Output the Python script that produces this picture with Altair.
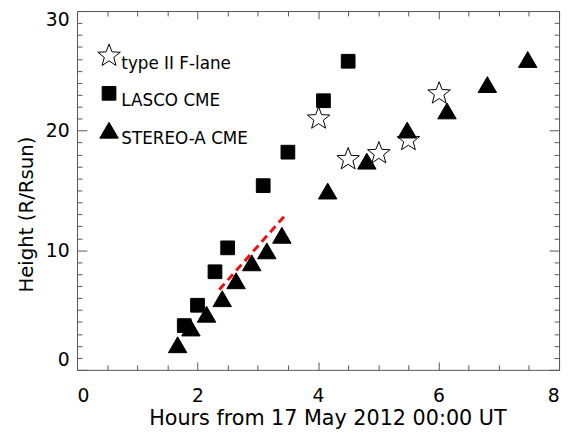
import math
import altair as alt
import pandas as pd

# ---- data ----
types = ["type II F-lane", "LASCO CME", "STEREO-A CME"]

star_x = [4.01, 4.50, 5.01, 5.50, 6.01]
star_y = [21.0, 17.6, 18.1, 19.2, 23.1]

lasco_x = [1.78, 2.00, 2.29, 2.50, 3.09, 3.50, 4.09, 4.50]
lasco_y = [3.7, 5.4, 8.2, 10.2, 15.4, 18.2, 22.5, 25.8]

stereo_x = [1.67, 1.89, 2.15, 2.41, 2.64, 2.90, 3.15, 3.40, 4.16, 4.81, 5.48, 6.14, 6.81, 7.48]
stereo_y = [2.05, 3.45, 4.6, 5.9, 7.4, 8.9, 9.9, 11.2, 14.9, 17.4, 20.0, 21.6, 23.8, 25.9]

fit_x = [2.36, 3.45]
fit_y = [6.7, 12.9]

x_major = [0, 2, 4, 6, 8]
x_minor = [v / 2 for v in range(1, 16) if v % 4 != 0]
y_major = [0, 10, 20, 30]
y_minor = [v for v in range(1, 30) if v % 10 != 0]

rows = []
for name, xs, ys in zip(types, [star_x, lasco_x, stereo_x], [star_y, lasco_y, stereo_y]):
    for xv, yv in zip(xs, ys):
        rows.append({"hours": xv, "height": yv, "type": name})
df = pd.DataFrame(rows)
fit = pd.DataFrame({"hours": fit_x, "height": fit_y})


def star_path(R=1.0, r=0.42):
    pts = []
    for k in range(10):
        ang = math.radians(-90 + 36 * k)
        rad = R if k % 2 == 0 else r
        pts.append(f"{rad * math.cos(ang):.3f},{rad * math.sin(ang):.3f}")
    return "M" + "L".join(pts) + "Z"


square_path = "M-0.58,-0.58L0.58,-0.58L0.58,0.58L-0.58,0.58Z"
tri_path = "M0,-0.72L0.78,0.62L-0.78,0.62Z"

FONT = "DejaVu Sans"
TICK = "#555555"


def xs():
    return alt.Scale(domain=[0, 8], nice=False, zero=False)


def ys():
    return alt.Scale(domain=[0, 30], nice=False, zero=False)


def tick_axis(orient, values, size):
    return alt.Axis(orient=orient, values=values, domain=False, labels=False,
                    grid=False, ticks=True, tickSize=size, offset=-size,
                    tickColor=TICK, tickWidth=1, title=None)


x_main = alt.Axis(orient="bottom", values=x_major, domain=False, ticks=False, grid=False,
                  labelFont=FONT, labelFontSize=19, labelColor="black", labelPadding=17,
                  labelAngle=0, format="d",
                  title="Hours from 17 May 2012 00:00 UT", titleFont=FONT, titleFontSize=21,
                  titleFontWeight="normal", titleColor="black", titleX=254, titleY=49,
                  titleBaseline="middle", titleAlign="center")
y_main = alt.Axis(orient="left", values=y_major, domain=False, ticks=False, grid=False,
                  labelFont=FONT, labelFontSize=19, labelColor="black", labelPadding=8,
                  labelFlush=True, format="d",
                  title="Height (R/Rsun)", titleFont=FONT, titleFontSize=20,
                  titleFontWeight="normal", titleColor="black", titleAngle=270,
                  titleX=-51, titleY=206, titleBaseline="middle", titleAlign="center")

leg = alt.Legend(title=None, orient="none", legendX=20, legendY=33, symbolSize=576,
                 symbolStrokeWidth=1, symbolStrokeColor="black", labelFont=FONT,
                 labelFontSize=17, labelColor="black", labelBaseline="top", labelOffset=0,
                 rowPadding=9, padding=0)

pts = alt.Chart(df).mark_point(filled=True, size=576, strokeWidth=1, opacity=1).encode(
    x=alt.X("hours:Q", scale=xs(), axis=x_main),
    y=alt.Y("height:Q", scale=ys(), axis=y_main),
    shape=alt.Shape("type:N", scale=alt.Scale(domain=types,
                                              range=[star_path(), square_path, tri_path]),
                    legend=leg),
    fill=alt.Fill("type:N", scale=alt.Scale(domain=types, range=["white", "black", "black"]),
                  legend=leg),
    stroke=alt.Stroke("type:N", scale=alt.Scale(domain=types, range=["black", "black", "black"]),
                      legend=leg),
)

line = alt.Chart(fit).mark_line(color="#ee1111", strokeWidth=3, strokeDash=[8, 5]).encode(
    x=alt.X("hours:Q", scale=xs(), axis=tick_axis("bottom", x_major, 8)),
    y=alt.Y("height:Q", scale=ys(), axis=tick_axis("left", y_major, 10)),
)

inv1 = alt.Chart(fit).mark_point(opacity=0).encode(
    x=alt.X("hours:Q", scale=xs(), axis=tick_axis("bottom", x_minor, 5)),
    y=alt.Y("height:Q", scale=ys(), axis=tick_axis("left", y_minor, 5)),
)
inv2 = alt.Chart(fit).mark_point(opacity=0).encode(
    x=alt.X("hours:Q", scale=xs(), axis=tick_axis("top", x_major, 8)),
    y=alt.Y("height:Q", scale=ys(), axis=tick_axis("right", y_major, 10)),
)
inv3 = alt.Chart(fit).mark_point(opacity=0).encode(
    x=alt.X("hours:Q", scale=xs(), axis=tick_axis("top", x_minor, 5)),
    y=alt.Y("height:Q", scale=ys(), axis=tick_axis("right", y_minor, 5)),
)

chart = alt.layer(pts, line, inv1, inv2, inv3).resolve_scale(
    x="independent", y="independent"
).resolve_axis(
    x="independent", y="independent"
).properties(
    width=489, height=364,
    autosize=alt.AutoSizeParams(type="none"),
    padding={"left": 70, "top": 0, "right": 4, "bottom": 62},
    background="white",
).configure_view(stroke="#555555", strokeWidth=1)

chart.save("out.html", embed_options={"renderer": "svg", "actions": False})
